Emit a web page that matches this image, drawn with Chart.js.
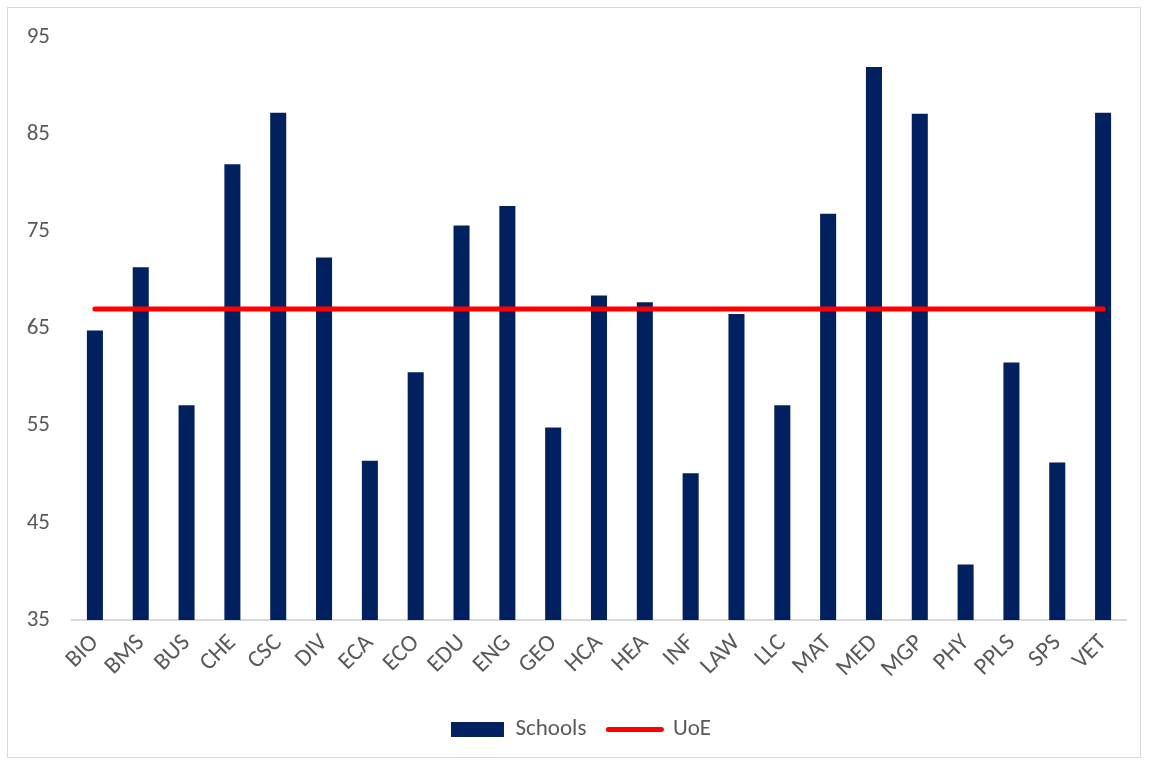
<!DOCTYPE html>
<html>
<head>
<meta charset="utf-8">
<script src="https://cdn.jsdelivr.net/npm/chart.js@4"></script>
<style>
  html, body { margin: 0; padding: 0; background: #fff; }
  #frame {
    position: absolute; left: 7px; top: 7px;
    width: 1134px; height: 751px;
    box-sizing: border-box;
    border: 1px solid #d9d9d9;
  }
  #schoolChart { display: block; }
</style>
</head>
<body>
<div id="frame"><canvas id="schoolChart"></canvas></div>
<script>
// schools and their scores
const schools = ['BIO', 'BMS', 'BUS', 'CHE', 'CSC', 'DIV', 'ECA', 'ECO', 'EDU', 'ENG', 'GEO', 'HCA',
                 'HEA', 'INF', 'LAW', 'LLC', 'MAT', 'MED', 'MGP', 'PHY', 'PPLS', 'SPS', 'VET'];
const schoolScores = [64.8, 71.3, 57.1, 81.9, 87.2, 72.3, 51.4, 60.5, 75.6, 77.6, 54.8, 68.4,
                      67.7, 50.1, 66.5, 57.1, 76.8, 91.9, 87.1, 40.7, 61.5, 51.2, 87.2];
// university-wide average, same for every school
const uoeScore = 67.0;
const uoeLine = schools.map(() => uoeScore);
const yTicks = [35, 45, 55, 65, 75, 85, 95];

const textColor = '#595959';
const fontFamily = "Carlito, Calibri, Lato, 'Open Sans', sans-serif";

// nudge the legend a little right of the canvas centre
const legendShift = {
    id: 'legendShift',
    afterLayout(chart) {
        chart.legend.left += 14;
        chart.legend.right += 14;
    }
};

const ctx = document.getElementById('schoolChart').getContext('2d');
new Chart(ctx, {
    data: {
        labels: schools,
        datasets: [
            {
                type: 'bar',
                label: 'Schools',
                data: schoolScores,
                backgroundColor: '#002060',
                borderWidth: 0,
                barPercentage: 0.7,
                categoryPercentage: 0.5,
                order: 2
            },
            {
                type: 'line',
                label: 'UoE',
                data: uoeLine,
                borderColor: '#ff0000',
                backgroundColor: '#ff0000',
                borderWidth: 5,
                borderCapStyle: 'round',
                pointRadius: 0,
                pointHoverRadius: 0,
                tension: 0,
                order: 1
            }
        ]
    },
    plugins: [legendShift],
    options: {
        responsive: true,
        maintainAspectRatio: false,
        animation: false,
        layout: { padding: { top: 29, right: 14, left: 0, bottom: 6 } },
        scales: {
            x: {
                offset: true,
                grid: { display: false, drawTicks: false },
                border: { display: true, color: '#d9d9d9', width: 2 },
                ticks: {
                    color: textColor,
                    font: { family: fontFamily, size: 24 },
                    minRotation: 45,
                    maxRotation: 45,
                    autoSkip: false,
                    padding: 9
                },
                afterFit: scale => { scale.height = 76; }
            },
            y: {
                min: 35,
                max: 95,
                afterBuildTicks: scale => { scale.ticks = yTicks.map(v => ({ value: v })); },
                // hidden tick marks give the label gap without padding the top
                grid: { display: false, drawTicks: true, tickLength: 14 },
                border: { display: false },
                ticks: {
                    color: textColor,
                    font: { family: fontFamily, size: 23 },
                    padding: 8
                },
                afterFit: scale => { scale.width = 64; }
            }
        },
        plugins: {
            tooltip: { enabled: false },
            legend: {
                position: 'bottom',
                labels: {
                    color: textColor,
                    font: { family: fontFamily, size: 23 },
                    usePointStyle: true,
                    pointStyleWidth: 53,
                    boxHeight: 15,
                    padding: 22,
                    generateLabels: chart => chart.data.datasets.map((ds, i) => ({
                        text: ds.label,
                        datasetIndex: i,
                        fillStyle: ds.backgroundColor,
                        strokeStyle: ds.type === 'line' ? ds.borderColor : ds.backgroundColor,
                        lineWidth: ds.type === 'line' ? 5 : 0,
                        lineCap: 'round',
                        pointStyle: ds.type === 'line' ? 'line' : 'rect',
                        fontColor: textColor,
                        hidden: false
                    }))
                }
            }
        }
    }
});
</script>
</body>
</html>
